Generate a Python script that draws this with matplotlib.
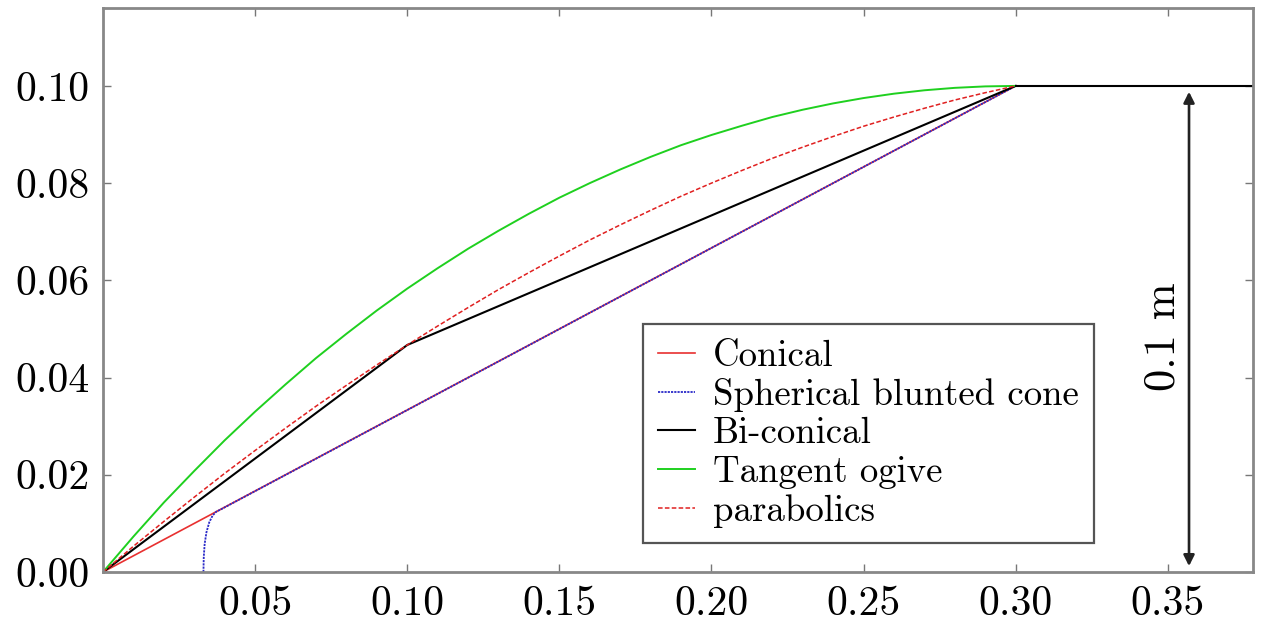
import matplotlib
matplotlib.use("Agg")
import matplotlib.pyplot as plt

plt.rcParams['font.family'] = ['cmr10', 'DejaVu Serif']
plt.rcParams['axes.formatter.use_mathtext'] = True

# nose profiles (x, r in metres)
conical_x = [0.0, 0.30]
conical_y = [0.0, 0.10]

sphere_x = [0.0330, 0.0331, 0.0334, 0.0340, 0.0349, 0.0360, 0.0372, 0.0385, 0.30]
sphere_y = [0.0, 0.0030, 0.0058, 0.0082, 0.0102, 0.0116, 0.0124, 0.0128, 0.10]

biconic_x = [0.0, 0.10, 0.30]
biconic_y = [0.0, 0.0467, 0.10]

ogive_x = [0.00, 0.01, 0.02, 0.03, 0.04, 0.05, 0.06, 0.07, 0.08, 0.09, 0.10,
           0.11, 0.12, 0.13, 0.14, 0.15, 0.16, 0.17, 0.18, 0.19, 0.20,
           0.21, 0.22, 0.23, 0.24, 0.25, 0.26, 0.27, 0.28, 0.29, 0.30]
ogive_y = [0.0, 0.0073, 0.0143, 0.0208, 0.0271, 0.0330, 0.0386, 0.0440, 0.0490, 0.0538, 0.0583,
           0.0625, 0.0665, 0.0702, 0.0737, 0.0770, 0.0800, 0.0828, 0.0854, 0.0878, 0.0899,
           0.0918, 0.0936, 0.0951, 0.0964, 0.0975, 0.0984, 0.0991, 0.0996, 0.0999, 0.1000]

parab_x = ogive_x
parab_y = [0.0, 0.0053, 0.0104, 0.0154, 0.0203, 0.0250, 0.0296, 0.0341, 0.0384, 0.0426, 0.0467,
           0.0506, 0.0544, 0.0581, 0.0616, 0.0650, 0.0683, 0.0714, 0.0744, 0.0773, 0.0800,
           0.0826, 0.0851, 0.0874, 0.0896, 0.0917, 0.0936, 0.0954, 0.0971, 0.0986, 0.1000]

body_x = [0.30, 0.40]
body_y = [0.10, 0.10]

xticks = [0.05, 0.10, 0.15, 0.20, 0.25, 0.30, 0.35]
xtick_labels = ['0.05', '0.10', '0.15', '0.20', '0.25', '0.30', '0.35']
yticks = [0.0, 0.02, 0.04, 0.06, 0.08, 0.10]
ytick_labels = ['0.00', '0.02', '0.04', '0.06', '0.08', '0.10']

fig = plt.figure(figsize=(12.63, 6.26), dpi=100)
ax = fig.add_axes([0.0816, 0.0863, 0.9104, 0.9007])

ax.plot(conical_x, conical_y, color='#e83030', lw=1.2, label='Conical')
ax.plot(sphere_x, sphere_y, color='#2a2ac8', lw=1.3, linestyle=(0, (1.2, 0.6)),
        label='Spherical blunted cone')
ax.plot(biconic_x, biconic_y, color='black', lw=1.5, label='Bi-conical')
ax.plot(ogive_x, ogive_y, color='#1fd01f', lw=1.4, label='Tangent ogive')
ax.plot(parab_x, parab_y, color='#e02020', lw=1.1, linestyle=(0, (3, 1.5)), label='parabolics')
ax.plot(body_x, body_y, color='black', lw=1.5)

# 0.1 m dimension arrow
ax.annotate('', xy=(0.357, 0.0988), xytext=(0.357, 0.0012),
            arrowprops=dict(arrowstyle='<|-|>', color='#222222', lw=1.9,
                            mutation_scale=16, shrinkA=0, shrinkB=0))
ax.text(0.3485, 0.0485, '0.1 m', rotation=90, ha='center', va='center', fontsize=32)

ax.set_xlim(0, 0.378)
ax.set_ylim(0, 0.116)
ax.set_xticks(xticks)
ax.set_xticklabels(xtick_labels)
ax.set_yticks(yticks)
ax.set_yticklabels(ytick_labels)
ax.tick_params(direction='in', length=6, width=1, color='#777777', labelsize=30,
               top=True, right=True)
ax.tick_params(axis='x', pad=10)
ax.tick_params(axis='y', pad=10)
for s in ax.spines.values():
    s.set_color('#888888')
    s.set_linewidth(2)

leg = ax.legend(loc='lower left', bbox_to_anchor=(0.4696, 0.0514), borderaxespad=0,
                fontsize=26.5, fancybox=False, framealpha=1, edgecolor='#555555',
                handlelength=1.0, handletextpad=0.48, labelspacing=0.14,
                borderpad=0.42)
leg.get_frame().set_linewidth(1.6)

fig.savefig('out.png', dpi=100)
